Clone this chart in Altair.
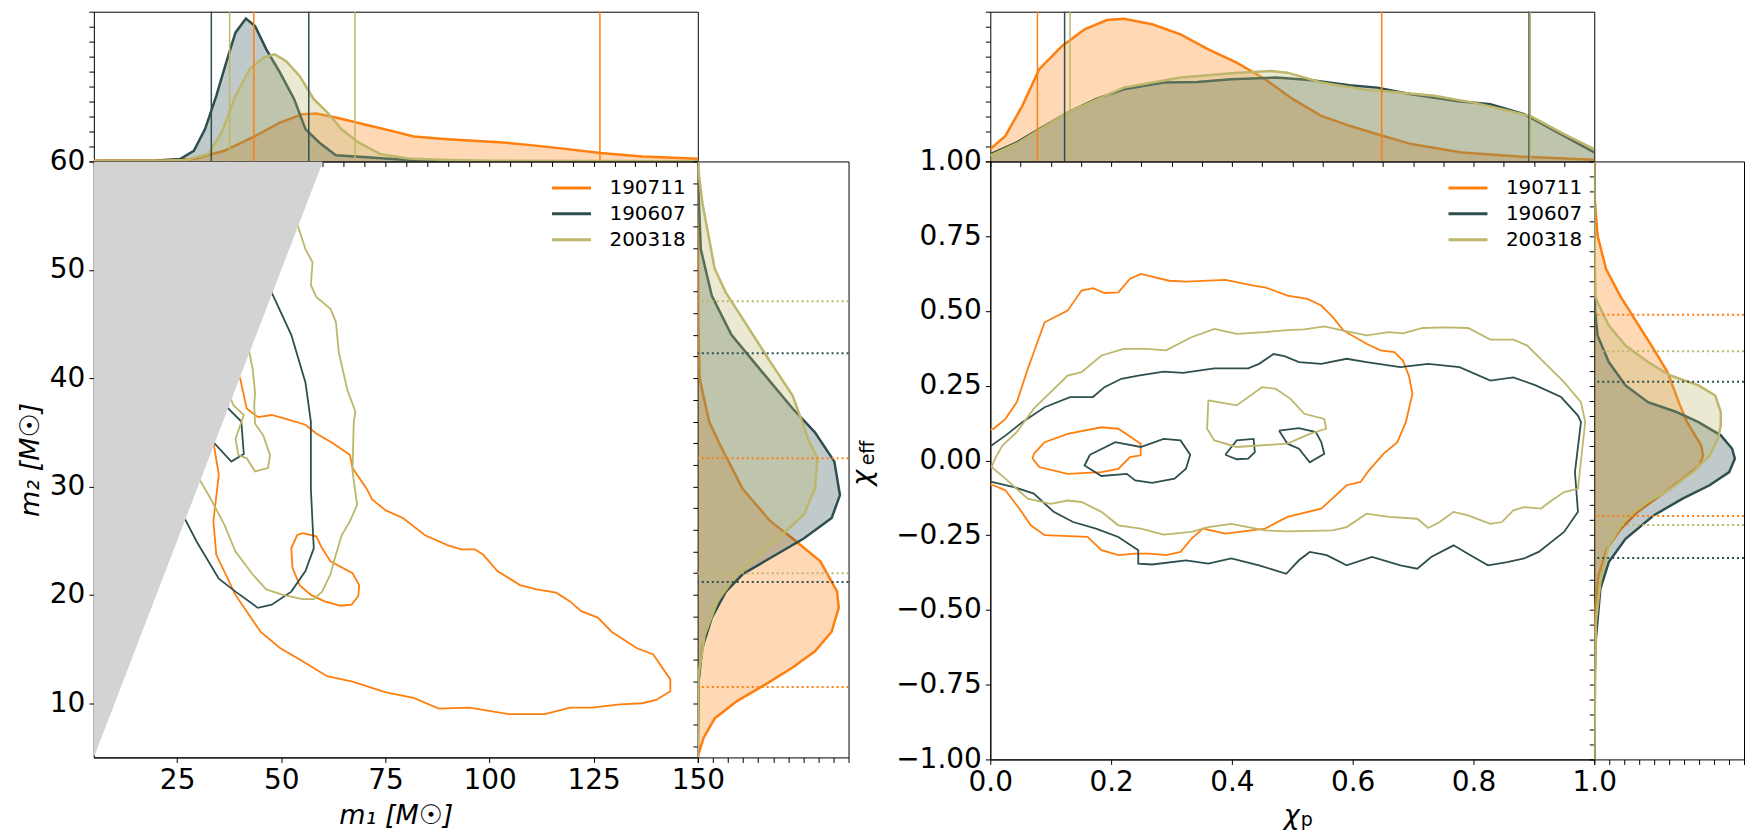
import altair as alt
import pandas as pd

FONT = "DejaVu Sans"
SERIES = ["190711", "190607", "200318"]
COLORS = ["#ff7f0e", "#2f4f4f", "#bdb76b"]

# ---------------- left panel: m1 / m2 contours ----------------
L_190711_OUTER_M1 = [40.1, 41.7, 44.4, 47.7, 51.5, 55.8, 58.4, 62.4, 66.5, 67.1, 70.5, 71.8, 75.1, 79.2, 84.5, 89.9, 93.2, 96.5, 98.5, 101.9, 107.3, 111.3, 116.0, 119.3, 122.0, 126.0, 129.3, 135.3, 139.3, 143.4, 143.4, 140.0, 136.7, 131.3, 124.6, 119.3, 113.3, 104.6, 95.2, 87.8, 81.8, 75.1, 67.1, 61.0, 55.0, 49.7, 45.0, 39.0, 34.4, 33.7, 35.0, 33.7, 32.0, 36.0, 40.1]
L_190711_OUTER_M2 = [40.0, 37.2, 36.4, 36.6, 36.2, 35.7, 34.9, 34.0, 32.9, 31.7, 29.8, 28.8, 27.8, 27.1, 25.5, 24.6, 24.2, 24.2, 23.7, 22.2, 20.9, 20.5, 20.2, 19.4, 18.5, 17.9, 16.6, 15.1, 14.5, 12.2, 11.1, 10.3, 10.0, 9.9, 9.6, 9.6, 9.0, 9.0, 9.6, 9.5, 10.5, 11.0, 12.0, 12.5, 13.9, 15.1, 16.6, 20.0, 23.7, 26.8, 31.1, 34.1, 37.0, 42.0, 40.0]
L_190711_INNER_M1 = [55.1, 58.4, 59.8, 61.8, 67.1, 68.7, 68.5, 66.9, 64.2, 60.4, 57.1, 54.4, 52.7, 52.4, 53.8, 55.1]
L_190711_INNER_M2 = [25.7, 25.4, 24.3, 23.1, 22.0, 20.9, 19.9, 19.1, 19.0, 19.4, 20.0, 20.9, 22.5, 24.3, 25.5, 25.7]
L_190607_OUTER_M1 = [47.7, 52.4, 55.8, 57.1, 57.1, 57.1, 57.8, 55.8, 52.4, 47.7, 44.4, 39.0, 35.0, 29.7, 27.0, 24.0, 30.0, 33.7, 38.0, 41.0, 40.4, 37.0, 40.0, 47.7]
L_190607_OUTER_M2 = [47.9, 44.0, 39.6, 36.0, 34.1, 29.8, 24.3, 22.2, 20.3, 19.1, 18.8, 20.3, 21.5, 24.9, 26.9, 28.0, 33.0, 34.1, 32.3, 33.0, 36.0, 37.3, 45.0, 47.9]
L_200318_OUTER_M1 = [53.7, 55.8, 57.5, 57.1, 58.4, 61.8, 63.1, 63.8, 65.8, 67.8, 67.4, 67.1, 68.2, 66.5, 64.5, 63.1, 61.8, 59.8, 57.8, 55.1, 50.4, 46.4, 43.1, 39.0, 36.3, 33.0, 30.3, 28.0, 45.0, 53.7]
L_200318_OUTER_M2 = [54.4, 51.9, 50.7, 48.6, 47.5, 46.4, 45.2, 42.4, 39.0, 36.9, 36.0, 31.4, 28.3, 26.8, 25.5, 23.7, 21.9, 20.3, 19.6, 19.6, 20.0, 20.5, 21.9, 24.0, 26.5, 28.9, 30.7, 33.0, 56.0, 54.4]
L_200318_INNER_M1 = [36.0, 38.5, 41.0, 39.0, 39.7, 41.7, 43.7, 46.8, 47.3, 45.7, 43.7, 43.5, 43.7, 43.1, 41.0, 36.0]
L_200318_INNER_M2 = [40.0, 37.5, 36.6, 34.4, 32.9, 32.6, 31.4, 31.7, 32.9, 34.7, 35.8, 37.5, 38.7, 40.9, 45.0, 40.0]

# excluded region m2 > m1
TRI_M1 = [5, 60]
TRI_LO = [5, 60]
TRI_HI = [60, 60]

# marginal m1 densities
M1_190711_X = [5, 20, 29.0, 36.3, 43.1, 49.7, 55.1, 58.4, 63.1, 69.8, 76.5, 81.8, 89.9, 103.3, 109.9, 116.6, 126.6, 136.7, 150]
M1_190711_H = [0.005, 0.008, 0.016, 0.071, 0.16, 0.26, 0.316, 0.32, 0.293, 0.249, 0.204, 0.167, 0.149, 0.127, 0.109, 0.089, 0.056, 0.033, 0.018]
M1_190607_X = [5, 20, 25.7, 29.0, 31.7, 34.4, 37.0, 39.0, 41.5, 43.7, 46.4, 49.7, 53.1, 55.8, 59.1, 63.1, 69.8, 79.2, 89.9, 100, 150]
M1_190607_H = [0.003, 0.005, 0.016, 0.071, 0.216, 0.438, 0.682, 0.86, 0.955, 0.904, 0.749, 0.593, 0.416, 0.216, 0.127, 0.042, 0.029, 0.011, 0.003, 0.001, 0.0]
M1_200318_X = [5, 20, 27.0, 32.4, 35.7, 39.0, 42.4, 45.7, 48.4, 51.1, 54.4, 57.8, 61.1, 64.4, 68.5, 73.8, 80.5, 89.9, 100, 150]
M1_200318_H = [0.003, 0.005, 0.01, 0.049, 0.193, 0.438, 0.616, 0.693, 0.716, 0.671, 0.571, 0.416, 0.327, 0.216, 0.127, 0.049, 0.02, 0.01, 0.005, 0.001]
M1_CI = {"190711": [43.4, 126.5], "190607": [33.2, 56.6], "200318": [37.6, 67.7]}

# marginal m2 densities
M2_190711_Y = [5, 5.3, 6.8, 8.6, 10.2, 11.7, 13.3, 14.8, 16.6, 18.8, 20.3, 23.1, 25.2, 26.8, 29.8, 33.8, 36.0, 40.0, 45.0, 60]
M2_190711_H = [0.0, 0.005, 0.038, 0.112, 0.26, 0.444, 0.629, 0.777, 0.888, 0.935, 0.924, 0.813, 0.629, 0.481, 0.297, 0.149, 0.075, 0.012, 0.003, 0.0]
M2_190607_Y = [5, 12.0, 15.1, 17.9, 20.3, 21.9, 23.4, 25.2, 27.1, 29.2, 32.3, 35.0, 37.2, 40.9, 44.0, 47.6, 51.9, 58.1, 60]
M2_190607_H = [0.0, 0.005, 0.03, 0.093, 0.186, 0.297, 0.481, 0.703, 0.888, 0.943, 0.906, 0.777, 0.629, 0.407, 0.223, 0.093, 0.02, 0.002, 0.001]
M2_200318_Y = [5, 12.6, 16.3, 19.4, 21.9, 23.7, 25.5, 27.4, 29.8, 32.6, 34.1, 38.4, 41.5, 45.5, 47.9, 50.1, 56.2, 59.3, 60]
M2_200318_H = [0.0, 0.005, 0.046, 0.13, 0.26, 0.407, 0.555, 0.703, 0.777, 0.795, 0.74, 0.629, 0.481, 0.297, 0.186, 0.112, 0.03, 0.003, 0.002]
M2_CI = {"190711": [11.5, 32.6], "190607": [21.2, 42.3], "200318": [22.0, 47.1]}

# ---------------- right panel: chi_p / chi_eff contours ----------------
R_190711_OUTER_X = [0.005, 0.025, 0.044, 0.062, 0.090, 0.128, 0.151, 0.170, 0.189, 0.212, 0.231, 0.249, 0.296, 0.324, 0.389, 0.436, 0.455, 0.492, 0.525, 0.548, 0.567, 0.585, 0.623, 0.646, 0.669, 0.683, 0.693, 0.699, 0.688, 0.674, 0.651, 0.627, 0.613, 0.590, 0.548, 0.492, 0.455, 0.389, 0.352, 0.333, 0.315, 0.291, 0.263, 0.240, 0.212, 0.184, 0.161, 0.090, 0.067, 0.048, 0.025, 0.005, -0.02, -0.02, 0.005]
R_190711_OUTER_Y = [0.105, 0.139, 0.195, 0.306, 0.462, 0.501, 0.568, 0.576, 0.560, 0.562, 0.607, 0.624, 0.601, 0.598, 0.604, 0.585, 0.579, 0.551, 0.540, 0.518, 0.479, 0.434, 0.390, 0.368, 0.362, 0.334, 0.284, 0.223, 0.128, 0.061, 0.022, -0.033, -0.072, -0.083, -0.161, -0.189, -0.228, -0.245, -0.228, -0.262, -0.306, -0.317, -0.312, -0.312, -0.317, -0.300, -0.256, -0.250, -0.217, -0.161, -0.100, -0.083, -0.07, 0.10, 0.105]
R_190711_INNER_X = [0.072, 0.090, 0.128, 0.184, 0.212, 0.249, 0.249, 0.231, 0.212, 0.184, 0.128, 0.081, 0.070, 0.072]
R_190711_INNER_Y = [0.022, 0.061, 0.089, 0.111, 0.106, 0.056, 0.017, 0.011, -0.028, -0.039, -0.045, -0.022, 0.006, 0.022]
R_190607_OUTER_X = [0.053, 0.090, 0.132, 0.170, 0.189, 0.217, 0.245, 0.287, 0.319, 0.371, 0.427, 0.445, 0.469, 0.487, 0.511, 0.548, 0.590, 0.623, 0.679, 0.725, 0.777, 0.828, 0.866, 0.903, 0.945, 0.973, 0.978, 0.968, 0.973, 0.950, 0.908, 0.884, 0.856, 0.824, 0.795, 0.767, 0.730, 0.707, 0.679, 0.632, 0.590, 0.557, 0.529, 0.511, 0.490, 0.445, 0.399, 0.361, 0.324, 0.268, 0.245, 0.245, 0.212, 0.175, 0.137, 0.105, 0.072, 0.039, 0.002, -0.02, -0.02, 0.002, 0.025, 0.053]
R_190607_OUTER_Y = [0.128, 0.178, 0.212, 0.212, 0.245, 0.273, 0.284, 0.297, 0.293, 0.308, 0.308, 0.323, 0.356, 0.349, 0.329, 0.323, 0.340, 0.329, 0.312, 0.323, 0.312, 0.267, 0.278, 0.251, 0.212, 0.150, 0.128, -0.039, -0.172, -0.239, -0.306, -0.328, -0.340, -0.351, -0.317, -0.284, -0.323, -0.362, -0.351, -0.323, -0.351, -0.317, -0.306, -0.334, -0.379, -0.351, -0.328, -0.345, -0.334, -0.348, -0.345, -0.300, -0.256, -0.228, -0.206, -0.172, -0.111, -0.089, -0.072, -0.06, 0.04, 0.050, 0.083, 0.128]
R_190607_A_X = [0.165, 0.207, 0.249, 0.287, 0.315, 0.331, 0.324, 0.305, 0.268, 0.240, 0.226, 0.184, 0.156, 0.165]
R_190607_A_Y = [0.019, 0.061, 0.045, 0.072, 0.067, 0.019, -0.028, -0.061, -0.075, -0.067, -0.045, -0.052, -0.017, 0.019]
R_190607_B_X = [0.389, 0.408, 0.436, 0.438, 0.427, 0.408, 0.389]
R_190607_B_Y = [0.019, 0.067, 0.072, 0.028, 0.006, 0.004, 0.019]
R_190607_C_X = [0.478, 0.511, 0.539, 0.548, 0.553, 0.529, 0.511, 0.492, 0.478]
R_190607_C_Y = [0.100, 0.108, 0.095, 0.061, 0.022, -0.006, 0.039, 0.056, 0.100]
R_200318_OUTER_X = [0.044, 0.072, 0.128, 0.151, 0.184, 0.221, 0.259, 0.291, 0.333, 0.371, 0.408, 0.455, 0.492, 0.520, 0.553, 0.585, 0.623, 0.660, 0.683, 0.716, 0.753, 0.791, 0.828, 0.866, 0.889, 0.922, 0.950, 0.978, 0.985, 0.973, 0.950, 0.926, 0.912, 0.884, 0.866, 0.847, 0.828, 0.791, 0.767, 0.744, 0.725, 0.707, 0.660, 0.623, 0.590, 0.567, 0.492, 0.455, 0.399, 0.361, 0.333, 0.287, 0.249, 0.212, 0.184, 0.151, 0.128, 0.100, 0.062, 0.025, 0.002, 0.008, 0.020, 0.044]
R_200318_OUTER_Y = [0.095, 0.173, 0.284, 0.295, 0.351, 0.373, 0.373, 0.368, 0.412, 0.440, 0.423, 0.429, 0.436, 0.438, 0.448, 0.434, 0.418, 0.429, 0.425, 0.443, 0.445, 0.443, 0.404, 0.404, 0.384, 0.318, 0.262, 0.195, 0.128, -0.095, -0.106, -0.139, -0.161, -0.156, -0.167, -0.206, -0.212, -0.184, -0.172, -0.206, -0.226, -0.195, -0.189, -0.178, -0.223, -0.234, -0.237, -0.234, -0.212, -0.223, -0.239, -0.248, -0.228, -0.217, -0.172, -0.139, -0.134, -0.145, -0.128, -0.061, -0.022, 0.006, 0.050, 0.095]
R_200318_INNER_X = [0.361, 0.408, 0.450, 0.473, 0.497, 0.520, 0.553, 0.556, 0.529, 0.492, 0.445, 0.408, 0.371, 0.359, 0.361]
R_200318_INNER_Y = [0.201, 0.184, 0.245, 0.239, 0.206, 0.156, 0.139, 0.106, 0.089, 0.056, 0.050, 0.045, 0.067, 0.106, 0.201]

# marginal chi_p densities
CP_190711_X = [0, 0.025, 0.053, 0.081, 0.119, 0.156, 0.193, 0.221, 0.268, 0.315, 0.361, 0.408, 0.455, 0.501, 0.548, 0.595, 0.641, 0.697, 0.781, 0.875, 1.0]
CP_190711_H = [0.082, 0.171, 0.371, 0.616, 0.771, 0.882, 0.944, 0.953, 0.916, 0.849, 0.749, 0.66, 0.549, 0.416, 0.304, 0.238, 0.182, 0.116, 0.06, 0.033, 0.011]
CP_190607_X = [0, 0.044, 0.081, 0.128, 0.175, 0.221, 0.287, 0.343, 0.399, 0.473, 0.529, 0.595, 0.641, 0.697, 0.772, 0.828, 0.884, 0.940, 1.0]
CP_190607_H = [0.049, 0.127, 0.216, 0.327, 0.416, 0.482, 0.527, 0.531, 0.549, 0.56, 0.544, 0.509, 0.493, 0.449, 0.404, 0.382, 0.316, 0.193, 0.06]
CP_200318_X = [0, 0.044, 0.128, 0.221, 0.315, 0.399, 0.464, 0.492, 0.548, 0.623, 0.669, 0.735, 0.800, 0.847, 0.894, 0.950, 1.0]
CP_200318_H = [0.04, 0.12, 0.327, 0.493, 0.56, 0.589, 0.604, 0.593, 0.527, 0.478, 0.464, 0.438, 0.393, 0.349, 0.304, 0.182, 0.082]
CP_CI = {"190711": [0.078, 0.648], "190607": [0.123, 0.892], "200318": [0.132, 0.894]}

# marginal chi_eff densities
CE_190711_Y = [-1, -0.496, -0.384, -0.295, -0.228, -0.172, -0.117, -0.061, -0.017, 0.016, 0.050, 0.128, 0.195, 0.295, 0.373, 0.462, 0.551, 0.640, 0.752, 0.885, 1.0]
CE_190711_H = [0.0, 0.006, 0.029, 0.085, 0.179, 0.291, 0.44, 0.59, 0.702, 0.727, 0.714, 0.62, 0.564, 0.49, 0.396, 0.284, 0.172, 0.079, 0.022, 0.002, 0.0]
CE_190607_Y = [-1, -0.740, -0.596, -0.429, -0.340, -0.262, -0.184, -0.128, -0.083, -0.039, 0.006, 0.039, 0.084, 0.128, 0.162, 0.195, 0.251, 0.329, 0.418, 0.5, 1.0]
CE_190607_H = [0.0, 0.002, 0.011, 0.041, 0.097, 0.209, 0.396, 0.59, 0.77, 0.901, 0.939, 0.921, 0.845, 0.696, 0.549, 0.359, 0.209, 0.097, 0.022, 0.005, 0.0]
CE_200318_Y = [-1, -0.540, -0.406, -0.284, -0.195, -0.139, -0.095, -0.039, 0.016, 0.072, 0.117, 0.162, 0.217, 0.251, 0.284, 0.329, 0.384, 0.451, 0.529, 0.551, 1.0]
CE_200318_H = [0.0, 0.011, 0.041, 0.097, 0.209, 0.359, 0.509, 0.658, 0.77, 0.826, 0.845, 0.845, 0.808, 0.696, 0.509, 0.359, 0.209, 0.097, 0.022, 0.005, 0.0]
CE_CI = {"190711": [-0.186, 0.487], "190607": [-0.326, 0.263], "200318": [-0.216, 0.365]}

# tick positions
L_XTICKS = [25, 50, 75, 100, 125, 150]
L_YTICKS = [10, 20, 30, 40, 50, 60]
R_XTICKS = [0.0, 0.2, 0.4, 0.6, 0.8, 1.0]
R_YTICKS = [-1.0, -0.75, -0.5, -0.25, 0.0, 0.25, 0.5, 0.75, 1.0]
L_TOP_MINOR = list(range(5, 151, 5))
L_SIDE_MINOR = list(range(6, 61, 2))
R_TOP_MINOR = [round(0.05 * i, 2) for i in range(21)]
R_SIDE_MINOR = [round(-1 + 0.05 * i, 2) for i in range(41)]
MARG_TICKS = [round(0.1 * i, 1) for i in range(11)]

color_scale = alt.Scale(domain=SERIES, range=COLORS)


def contour_df(entries):
    rows = []
    for series, cid, xs, ys in entries:
        assert len(xs) == len(ys), cid
        for i, (x, y) in enumerate(zip(xs, ys)):
            rows.append({"series": series, "cid": cid, "i": i, "x": x, "y": y})
    return pd.DataFrame(rows)


def main_axis(values, fmt, title, pad):
    kw = dict(values=values, format=fmt, labelFontSize=28, labelFont=FONT, labelColor="black",
              tickSize=5, tickWidth=1, labelPadding=4, labelFlush=False, labelOverlap=False,
              grid=False, domainColor="black", tickColor="black")
    if title is None:
        kw["title"] = None
    else:
        kw.update(title=title, titleFontSize=27, titleFont=FONT, titleFontStyle="italic",
                  titleFontWeight="normal", titleColor="black", titlePadding=pad)
    return alt.Axis(**kw)


def minor_axis(values):
    return alt.Axis(values=values, labels=False, title=None, tickSize=5, tickWidth=1,
                    grid=False, domain=False, tickColor="black")


legend = alt.Legend(title=None, orient="top-right", offset=12,
                    symbolType="M-1.5,0H1.5", symbolSize=676, symbolStrokeWidth=3,
                    labelFontSize=20, labelFont=FONT, labelColor="black",
                    labelOffset=23.5, padding=0, rowPadding=1)


def main_chart(entries, xdom, ydom, xaxis, yaxis, w, h, extra):
    X = alt.X("x:Q", scale=alt.Scale(domain=xdom, nice=False, zero=False), axis=xaxis)
    Y = alt.Y("y:Q", scale=alt.Scale(domain=ydom, nice=False, zero=False), axis=yaxis)
    lines = alt.Chart(contour_df(entries)).mark_line(strokeWidth=1.8, clip=True).encode(
        x=X, y=Y,
        color=alt.Color("series:N", scale=color_scale, legend=legend),
        detail="cid:N", order="i:Q")
    return alt.layer(lines, *[e(X, Y) for e in extra]).properties(width=w, height=h)


def top_marginal(curves, ci, xdom, xticks, w):
    X = alt.X("x:Q", scale=alt.Scale(domain=xdom, nice=False, zero=False), axis=minor_axis(xticks))
    Y = alt.Y("h:Q", scale=alt.Scale(domain=[0, 1], nice=False), axis=minor_axis(MARG_TICKS))
    layers = []
    for s, col, xs, hs in curves:
        df = pd.DataFrame({"x": xs, "h": hs, "i": range(len(xs))})
        layers.append(alt.Chart(df).mark_area(color=col, opacity=0.3, clip=True).encode(x=X, y=Y))
        layers.append(alt.Chart(df).mark_line(color=col, strokeWidth=2.5, clip=True).encode(x=X, y=Y, order="i:Q"))
    rdf = pd.DataFrame([{"series": s, "x": v} for s in SERIES for v in ci[s]])
    layers.append(alt.Chart(rdf).mark_rule(strokeWidth=1.5).encode(
        x=X, color=alt.Color("series:N", scale=color_scale, legend=None)))
    return alt.layer(*layers).properties(width=w, height=150)


def side_marginal(curves, ci, ydom, yticks, w, h):
    Y = alt.Y("y:Q", scale=alt.Scale(domain=ydom, nice=False, zero=False), axis=minor_axis(yticks))
    X = alt.X("h:Q", scale=alt.Scale(domain=[0, 1], nice=False), axis=minor_axis(MARG_TICKS))
    layers = []
    for s, col, ys, hs in curves:
        df = pd.DataFrame({"y": ys, "h": hs, "i": range(len(ys))})
        layers.append(alt.Chart(df).mark_area(color=col, opacity=0.3, orient="horizontal", clip=True).encode(x=X, y=Y))
        layers.append(alt.Chart(df).mark_line(color=col, strokeWidth=2.5, clip=True).encode(x=X, y=Y, order="i:Q"))
    rdf = pd.DataFrame([{"series": s, "y": v} for s in SERIES for v in ci[s]])
    layers.append(alt.Chart(rdf).mark_rule(strokeWidth=2, strokeDash=[2, 3]).encode(
        y=Y, color=alt.Color("series:N", scale=color_scale, legend=None)))
    return alt.layer(*layers).properties(width=w, height=h)


def blank(w, h):
    return alt.Chart(pd.DataFrame({"v": [0]})).mark_point(opacity=0).encode(
        x=alt.X("v:Q", axis=None), y=alt.Y("v:Q", axis=None)
    ).properties(width=w, height=h, view=alt.ViewBackground(strokeOpacity=0))


def gray_triangle(X, Y):
    df = pd.DataFrame({"x": TRI_M1, "y": TRI_LO, "y2": TRI_HI})
    return alt.Chart(df).mark_area(color="#d3d3d3", clip=True).encode(x=X, y=Y, y2="y2:Q")


def text_at(txt, px, py, size, angle=0, italic=False):
    def make(X, Y):
        kw = dict(fontSize=size, font=FONT, color="black", align="center", baseline="middle")
        if angle:
            kw["angle"] = angle
        if italic:
            kw["fontStyle"] = "italic"
        return alt.Chart(pd.DataFrame({"t": [txt]})).mark_text(**kw).encode(
            x=alt.value(px), y=alt.value(py), text="t:N")
    return make


# ---------------- assemble ----------------
mainL = main_chart(
    [("190711", "o1", L_190711_OUTER_M1, L_190711_OUTER_M2),
     ("190711", "o2", L_190711_INNER_M1, L_190711_INNER_M2),
     ("190607", "d1", L_190607_OUTER_M1, L_190607_OUTER_M2),
     ("200318", "k1", L_200318_OUTER_M1, L_200318_OUTER_M2),
     ("200318", "k2", L_200318_INNER_M1, L_200318_INNER_M2)],
    [5, 150], [5, 60],
    main_axis(L_XTICKS, "d", "m₁ [M☉]", 8),
    main_axis(L_YTICKS, "d", "m₂ [M☉]", 5),
    605, 597, [gray_triangle])

topL = top_marginal(
    [("190711", COLORS[0], M1_190711_X, M1_190711_H),
     ("190607", COLORS[1], M1_190607_X, M1_190607_H),
     ("200318", COLORS[2], M1_200318_X, M1_200318_H)],
    M1_CI, [5, 150], L_TOP_MINOR, 605)

sideL = side_marginal(
    [("190711", COLORS[0], M2_190711_Y, M2_190711_H),
     ("190607", COLORS[1], M2_190607_Y, M2_190607_H),
     ("200318", COLORS[2], M2_200318_Y, M2_200318_H)],
    M2_CI, [5, 60], L_SIDE_MINOR, 151, 597)

mainR = main_chart(
    [("190711", "o1", R_190711_OUTER_X, R_190711_OUTER_Y),
     ("190711", "o2", R_190711_INNER_X, R_190711_INNER_Y),
     ("190607", "d1", R_190607_OUTER_X, R_190607_OUTER_Y),
     ("190607", "d2", R_190607_A_X, R_190607_A_Y),
     ("190607", "d3", R_190607_B_X, R_190607_B_Y),
     ("190607", "d4", R_190607_C_X, R_190607_C_Y),
     ("200318", "k1", R_200318_OUTER_X, R_200318_OUTER_Y),
     ("200318", "k2", R_200318_INNER_X, R_200318_INNER_Y)],
    [0, 1], [-1, 1],
    main_axis(R_XTICKS, ".1f", None, 0),
    main_axis(R_YTICKS, ".2f", None, 0),
    605, 599,
    [text_at("χ", 302, 656, 27, italic=True),
     text_at("p", 317, 660, 19),
     text_at("χ", -128, 317, 27, angle=270, italic=True),
     text_at("eff", -123, 292, 19, angle=270)])

topR = top_marginal(
    [("190711", COLORS[0], CP_190711_X, CP_190711_H),
     ("190607", COLORS[1], CP_190607_X, CP_190607_H),
     ("200318", COLORS[2], CP_200318_X, CP_200318_H)],
    CP_CI, [0, 1], R_TOP_MINOR, 605)

sideR = side_marginal(
    [("190711", COLORS[0], CE_190711_Y, CE_190711_H),
     ("190607", COLORS[1], CE_190607_Y, CE_190607_H),
     ("200318", COLORS[2], CE_200318_Y, CE_200318_H)],
    CE_CI, [-1, 1], R_SIDE_MINOR, 150, 599)

# flat 4-column grid: top marginals on row 1, main + side marginals on row 2;
# the blank in column 2 opens the gap between the two panels
chart = alt.concat(
    topL, blank(293, 150), topR, blank(150, 150),
    mainL, sideL, mainR, sideR,
    columns=4, spacing=0, align="each", bounds="flush"
).resolve_scale(color="independent").resolve_legend(color="independent").properties(
    padding={"left": 7, "top": 1, "right": 0, "bottom": 1}
).configure_view(stroke="black", strokeWidth=1).configure_axis(
    domainColor="black", tickColor="black", labelColor="black", titleColor="black"
)

chart.save("out.html", embed_options={"renderer": "svg", "actions": False})
